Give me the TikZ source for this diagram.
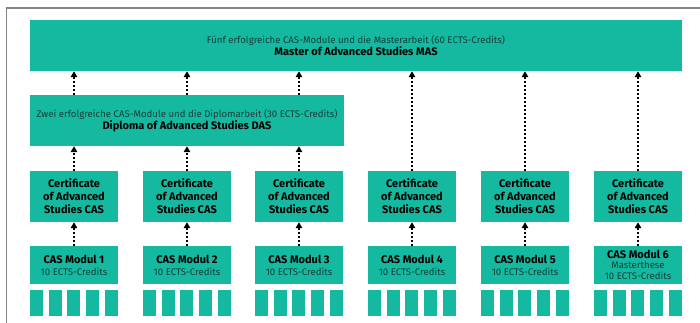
\documentclass[tikz,border=0pt]{standalone}
\usepackage{fontspec}
\setmainfont{Fira Sans}
\usetikzlibrary{arrows.meta}
\definecolor{tealbox}{HTML}{14B9A0}
\definecolor{txtgray}{HTML}{163F3A}
\definecolor{framegray}{HTML}{7E8784}
\newcommand\regtxt[1]{{\fontsize{9.6}{12}\selectfont\color{txtgray}#1}}
\newcommand\boldtxt[1]{{\fontsize{11}{13}\selectfont\bfseries #1}}
\begin{document}
\begin{tikzpicture}[x=1pt,y=-1pt,
  box/.style={fill=tealbox, inner sep=0pt, align=center, text=black},
  certbox/.style={box, minimum width=88pt, minimum height=51pt,
    font=\fontsize{11}{13}\selectfont\bfseries},
  modbox/.style={box, minimum width=88pt, minimum height=38pt},
  sq/.style={fill=tealbox, inner sep=0pt, minimum width=13pt, minimum height=26pt},
  conn/.style={draw=black, line width=1.6pt, dash pattern=on 1.6pt off 2.4pt,
    -{Triangle[length=6pt,width=6.5pt]}}]
\useasboundingbox (0,0) rectangle (700,322);
\draw[framegray, line width=1.5pt] (6.5,323) -- (6.5,8) -- (701,8);

\node[box, minimum width=652pt, minimum height=51pt] (mas) at (356,45.5)
  {\regtxt{Fünf erfolgreiche CAS-Module und die Masterarbeit (60 ECTS-Credits)}\\[0.5pt]
   \boldtxt{Master of Advanced Studies MAS}};
\node[box, minimum width=314pt, minimum height=51pt] (das) at (187,120.5)
  {\regtxt{Zwei erfolgreiche CAS-Module und die Diplomarbeit (30 ECTS-Credits)}\\[0.5pt]
   \boldtxt{Diploma of Advanced Studies DAS}};

\foreach \k/\px in {1/74,2/187,3/299,4/412,5/525,6/638}{
  \node[certbox] (c\k) at (\px,196.5) {Certificate\\of Advanced\\Studies CAS};
  \node[modbox] (m\k) at (\px,265) {};
}
\foreach \k in {1,...,6}{
  \foreach \j in {0,...,4}{
    \node[sq] (s\k-\j) at ([xshift={6.5pt+\j*18.75pt}]m\k.west |- 0,303) {};
  }
}
\foreach \k in {1,...,5}{
  \node[align=center, inner sep=0pt] at ([yshift=-0.5pt]m\k) {\boldtxt{CAS Modul \k}\\[-0.5pt]\regtxt{10 ECTS-Credits}};
}
\node[align=center, inner sep=0pt] at (m6) {\boldtxt{CAS Modul 6}\\[-2pt]\regtxt{Masterthese}\\[-1.5pt]\regtxt{10 ECTS-Credits}};

\foreach \k in {1,...,6}{
  \draw[conn] (m\k.north) -- (c\k.south);
}
\foreach \k in {1,2,3}{
  \draw[conn] (c\k.north) -- (c\k.north |- das.south);
  \draw[conn] (das.north -| c\k) -- (mas.south -| c\k);
}
\foreach \k in {4,5,6}{
  \draw[conn] (c\k.north) -- (c\k.north |- mas.south);
}
\end{tikzpicture}
\end{document}
